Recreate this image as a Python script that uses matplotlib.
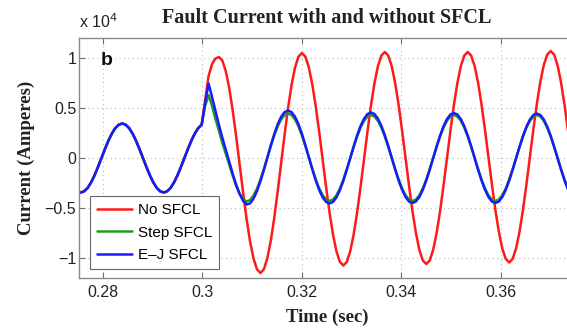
import numpy as np
import matplotlib
matplotlib.use("Agg")
import matplotlib.pyplot as plt
from matplotlib.ticker import FuncFormatter

# sample clock: 1440 samples/s (15 deg of a 60 Hz cycle per sample)
t_first = 0.27484
n_samples = 144
time_s = t_first + np.arange(n_samples) / 1440.0

# current in units of 1e4 A
pre_fault = [
    -0.333, -0.345, -0.333, -0.299, -0.244, -0.1725, -0.089, 0.0, 0.089, 0.1725, 0.244, 0.299, 0.333,
    0.345, 0.333, 0.299, 0.244, 0.1725, 0.089, 0.0, -0.089, -0.1725, -0.244, -0.299, -0.333,
    -0.345, -0.333, -0.299, -0.244, -0.1725, -0.089, 0.0, 0.089, 0.1725, 0.244, 0.299, 0.333,
]

no_sfcl_post = [
    0.58, 0.82, 0.94, 0.995, 1.01,
    0.973, 0.865, 0.694, 0.47, 0.21, -0.07, -0.35, -0.61, -0.834, -1.005, -1.113, -1.15,
    -1.113, -1.003, -0.828, -0.60, -0.335, -0.05, 0.235, 0.50, 0.728, 0.903, 1.013, 1.05,
    1.014, 0.908, 0.739, 0.519, 0.263, -0.013, -0.288, -0.544, -0.764, -0.933, -1.039, -1.075,
    -1.039, -0.932, -0.762, -0.541, -0.284, -0.008, 0.269, 0.526, 0.747, 0.917, 1.024, 1.06,
    1.024, 0.918, 0.750, 0.53, 0.274, 0.0, -0.274, -0.53, -0.750, -0.918, -1.024, -1.06,
    -1.024, -0.918, -0.750, -0.53, -0.274, 0.0, 0.274, 0.53, 0.750, 0.918, 1.024, 1.06,
    1.024, 0.919, 0.752, 0.534, 0.280, 0.008, -0.265, -0.519, -0.737, -0.904, -1.009, -1.045,
    -1.009, -0.903, -0.735, -0.516, -0.261, 0.013, 0.286, 0.541, 0.760, 0.928, 1.034, 1.07,
    1.034, 0.927, 0.757, 0.535, 0.277, 0.0,
]

step_sfcl_post = [
    0.52, 0.63, 0.52, 0.39, 0.27, 0.15, 0.04, -0.07, -0.18, -0.28, -0.36, -0.41, -0.435,
    -0.420, -0.376, -0.306, -0.215, -0.109, 0.005, 0.119, 0.225, 0.316, 0.386, 0.430, 0.445,
    0.430, 0.386, 0.317, 0.226, 0.121, 0.008, -0.106, -0.211, -0.302, -0.371, -0.415, -0.43,
    -0.415, -0.372, -0.304, -0.215, -0.111, 0.0, 0.111, 0.215, 0.304, 0.372, 0.415, 0.43,
    0.415, 0.372, 0.304, 0.215, 0.111, 0.0, -0.111, -0.215, -0.304, -0.372, -0.415, -0.43,
    -0.415, -0.372, -0.304, -0.215, -0.111, 0.0, 0.111, 0.215, 0.304, 0.372, 0.415, 0.43,
    0.415, 0.372, 0.304, 0.215, 0.111, 0.0, -0.111, -0.215, -0.304, -0.372, -0.415, -0.43,
    -0.415, -0.372, -0.304, -0.215, -0.111, 0.0, 0.111, 0.215, 0.304, 0.372, 0.415, 0.43,
    0.415, 0.372, 0.304, 0.215, 0.111, 0.0, -0.111, -0.215, -0.304, -0.372,
]

ej_sfcl_post = [
    0.55, 0.745, 0.61, 0.47, 0.33, 0.20, 0.08, -0.04, -0.16, -0.27, -0.36, -0.43, -0.465,
    -0.454, -0.407, -0.332, -0.234, -0.120, 0.003, 0.125, 0.239, 0.337, 0.412, 0.459, 0.475,
    0.459, 0.413, 0.339, 0.243, 0.130, 0.010, -0.110, -0.223, -0.319, -0.393, -0.439, -0.455,
    -0.440, -0.394, -0.322, -0.228, -0.118, 0.0, 0.118, 0.228, 0.322, 0.394, 0.440, 0.455,
    0.440, 0.394, 0.322, 0.229, 0.120, 0.003, -0.115, -0.224, -0.317, -0.389, -0.435, -0.45,
    -0.435, -0.390, -0.318, -0.225, -0.117, 0.0, 0.117, 0.225, 0.318, 0.390, 0.435, 0.45,
    0.435, 0.390, 0.318, 0.225, 0.117, 0.0, -0.117, -0.225, -0.318, -0.390, -0.435, -0.45,
    -0.435, -0.390, -0.319, -0.226, -0.118, -0.003, 0.113, 0.221, 0.314, 0.385, 0.430, 0.445,
    0.430, 0.385, 0.315, 0.223, 0.115, 0.0, -0.115, -0.223, -0.315, -0.385,
]

series_labels = ["No SFCL", "Step SFCL", "E\u2013J SFCL"]
series_colors = ["#ff1a1a", "#1f9a1f", "#1a1aff"]
x_ticks = [0.28, 0.30, 0.32, 0.34, 0.36]
y_ticks = [-1.0, -0.5, 0.0, 0.5, 1.0]

scale = 1e4
currents = [
    np.array(pre_fault + no_sfcl_post) * scale,
    np.array(pre_fault + step_sfcl_post) * scale,
    np.array(pre_fault + ej_sfcl_post) * scale,
]

plt.rcParams["font.family"] = ["Liberation Sans", "DejaVu Sans"]
serif_bold = {"family": ["Liberation Serif", "DejaVu Serif"], "weight": "bold"}

fig = plt.figure(figsize=(5.67, 3.31), dpi=100)
ax = fig.add_axes([0.1393, 0.1601, 0.8748, 0.7251])

for y, label, color in zip(currents, series_labels, series_colors):
    ax.plot(time_s, y, color=color, linewidth=1.8, label=label, solid_capstyle="round")

ax.set_xlim(0.27518, 0.37487)
ax.set_ylim(-1.2 * scale, 1.2 * scale)
ax.set_xticks(x_ticks)
ax.set_yticks([v * scale for v in y_ticks])
ax.xaxis.set_major_formatter(FuncFormatter(lambda v, _: f"{v:g}"))
ax.yaxis.set_major_formatter(FuncFormatter(lambda v, _: f"{v / scale:g}".replace("-", "\u2212")))
ax.tick_params(direction="in", length=4, width=0.8, colors="#707070", labelcolor="#222222",
               labelsize=11.5, top=True, right=True)
ax.tick_params(axis="x", pad=5)
ax.tick_params(axis="y", pad=2)
ax.grid(True, linestyle=(0, (1, 3)), color="#b8b8b8", linewidth=0.8)
for spine in ax.spines.values():
    spine.set_color("#8a8a8a")
    spine.set_linewidth(1.0)

ax.set_title("Fault Current with and without SFCL", fontdict=serif_bold, fontsize=14.5, pad=11, color="#222222")
ax.set_xlabel("Time (sec)", fontdict=serif_bold, fontsize=13.5, labelpad=6, color="#222222")
ax.set_ylabel("Current (Amperes)", fontdict=serif_bold, fontsize=13.5, labelpad=7, color="#222222")
ax.text(0.0, 1.03, "x 10$^4$", transform=ax.transAxes, fontsize=11.5, color="#222222",
        ha="left", va="bottom")
ax.text(0.043, 0.905, "b", transform=ax.transAxes, fontsize=14, fontweight="bold", color="#111111",
        ha="left", va="center")

leg = ax.legend(loc="lower left", bbox_to_anchor=(0.022, 0.038), borderaxespad=0.0, fontsize=11,
                handlelength=2.3, handletextpad=0.4, borderpad=0.45, labelspacing=0.55,
                fancybox=False, edgecolor="#666666", framealpha=1.0)
leg.get_frame().set_linewidth(0.8)

fig.savefig("out.png", dpi=100)
